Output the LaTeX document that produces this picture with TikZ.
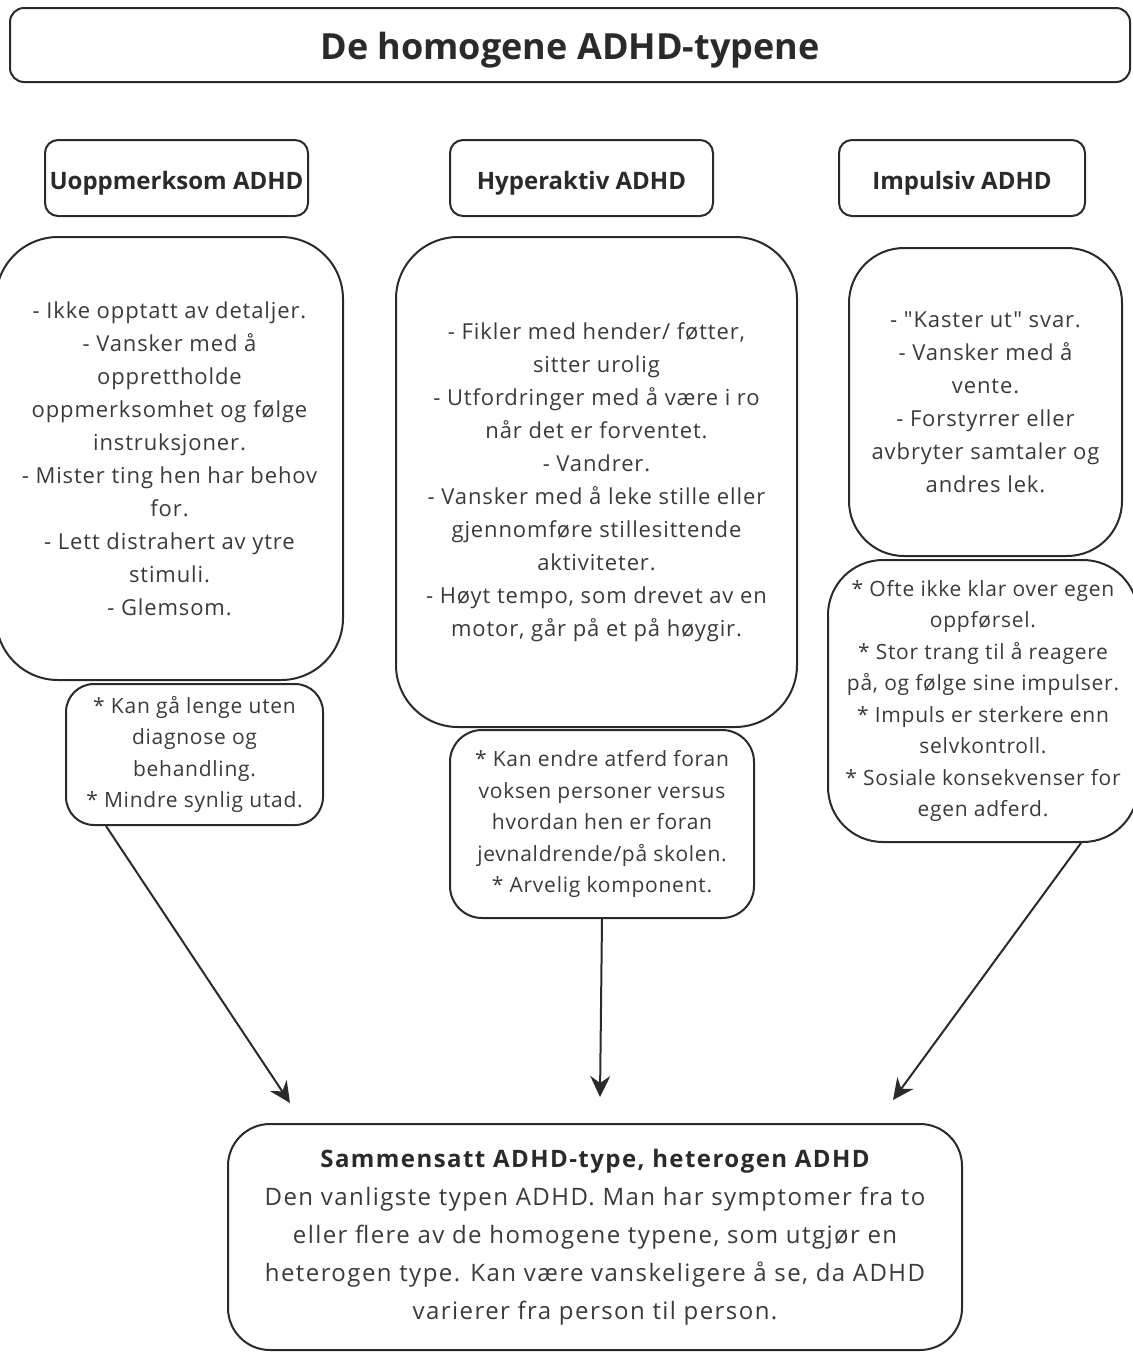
\documentclass[tikz,border=0pt]{standalone}
\usepackage{fontspec}
\setmainfont{Open Sans}
\newfontfamily\bodyfont[LetterSpace=4]{Open Sans}
\newfontfamily\smallfont[LetterSpace=3.5]{Open Sans}
\newfontfamily\botfont[LetterSpace=6]{Open Sans}
\usetikzlibrary{arrows.meta,calc}
\definecolor{ink}{HTML}{2A2A2A}
\definecolor{txt}{HTML}{3A3A3A}
\tikzset{
  box/.style={draw=ink, line width=2pt, inner sep=0pt, align=center, text=txt},
  headbox/.style={box, rounded corners=13pt, text=ink, text height=22pt, text depth=0pt,
    font={\bfseries\fontsize{24}{28}\selectfont}},
  bigbox/.style={box, rounded corners=62pt, font={\bodyfont\fontsize{22}{33}\selectfont}},
  smallbox/.style={box, rounded corners=28pt, font={\smallfont\fontsize{21}{31.5}\selectfont}},
  arr/.style={draw=ink, line width=2pt, -{Stealth[length=21pt,width=20pt,inset=7pt]}}
}
\begin{document}
\begin{tikzpicture}[x=1pt,y=-1pt]
\useasboundingbox (0,0) rectangle (1133,1353);
% title
\node[box, rounded corners=14pt, minimum width=1120pt, minimum height=74pt, text=ink,
  text height=28pt, text depth=0pt,
  font={\bfseries\fontsize{36}{42}\selectfont}] (title) at (570,45) {De homogene ADHD-typene};
% headers
\node[headbox, minimum width=263pt, minimum height=76pt] (h1) at (176.5,178) {Uoppmerksom ADHD};
\node[headbox, minimum width=263pt, minimum height=76pt] (h2) at (581.5,178) {Hyperaktiv ADHD};
\node[headbox, minimum width=246pt, minimum height=76pt] (h3) at (962,178) {Impulsiv ADHD};
% big boxes
\node[bigbox, minimum width=347pt, minimum height=443pt] (b1) at (169.5,458.5)
 {- Ikke opptatt av detaljer.\\- Vansker med å\\opprettholde\\oppmerksomhet og følge\\instruksjoner.\\- Mister ting hen har behov\\for.\\- Lett distrahert av ytre\\stimuli.\\- Glemsom.};
\node[bigbox, minimum width=401pt, minimum height=490pt] (b2) at (596.5,482)
 {- Fikler med hender/ føtter,\\sitter urolig\\- Utfordringer med å være i ro\\når det er forventet.\\- Vandrer.\\- Vansker med å leke stille eller\\gjennomføre stillesittende\\aktiviteter.\\- Høyt tempo, som drevet av en\\motor, går på et på høygir.};
\node[bigbox, rounded corners=55pt, minimum width=273pt, minimum height=308pt] (b3) at (985.5,402)
 {- \char34 Kaster ut\char34{} svar.\\- Vansker med å\\vente.\\- Forstyrrer eller\\avbryter samtaler og\\andres lek.};
% small boxes
\node[smallbox, minimum width=257pt, minimum height=141pt] (s1) at (194.5,754.5)
 {* Kan gå lenge uten\\diagnose og\\behandling.\\* Mindre synlig utad.};
\node[smallbox, rounded corners=32pt, minimum width=304pt, minimum height=188pt] (s2) at (602,824)
 {* Kan endre atferd foran\\voksen personer versus\\hvordan hen er foran\\jevnaldrende/på skolen.\\* Arvelig komponent.};
\node[smallbox, rounded corners=55pt, minimum width=310pt, minimum height=282pt] (s3) at (983,701)
 {* Ofte ikke klar over egen\\oppførsel.\\* Stor trang til å reagere\\på, og følge sine impulser.\\* Impuls er sterkere enn\\selvkontroll.\\* Sosiale konsekvenser for\\egen adferd.};
% bottom box
\node[box, rounded corners=42pt, minimum width=734pt, minimum height=226pt,
  font={\botfont\fontsize{24}{38}\selectfont}] (bot) at (595,1237)
 {{\bfseries\color{ink}Sammensatt ADHD-type, heterogen ADHD}\\Den vanligste typen ADHD. Man har symptomer fra to\\eller flere av de homogene typene, som utgjør en\\heterogen type. Kan være vanskeligere å se, da ADHD\\varierer fra person til person.};
% arrow tips
\coordinate (t1) at (290,1103);
\coordinate (t2) at (600,1097);
\coordinate (t3) at (893,1100);
\draw[arr] ([xshift=41pt]s1.south west) -- (t1);
\draw[arr] (s2.south) -- (t2);
\draw[arr] ([xshift=-58pt]s3.south east) -- (t3);
\end{tikzpicture}
\end{document}
